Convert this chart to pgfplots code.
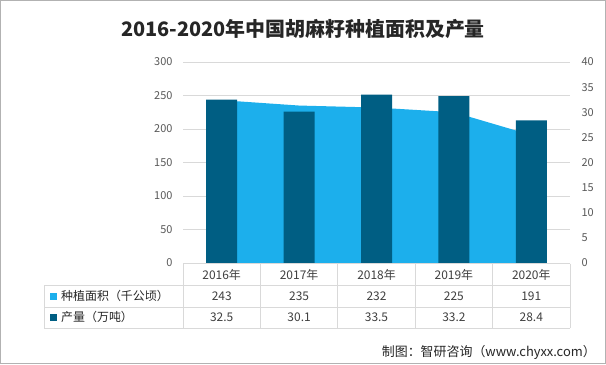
\documentclass[border=0pt]{standalone}
\usepackage{pgfplots}
\pgfplotsset{compat=1.18}
\usepackage{fontspec}
\setmainfont{Noto Sans CJK SC}
\definecolor{areablue}{RGB}{28,175,236}
\definecolor{bardark}{RGB}{0,94,131}
\definecolor{gridgray}{RGB}{217,217,217}
\definecolor{ticktext}{RGB}{89,89,89}
\definecolor{tabtext}{RGB}{64,64,64}
\begin{document}
\begin{tikzpicture}[x=1bp,y=1bp]
\useasboundingbox (0,0) rectangle (606,364);
\fill[white] (0,0) rectangle (606,364);
% left axis: planting area
\begin{axis}[at={(183bp,101bp)}, anchor=south west, scale only axis,
  width=387bp, height=201bp, xmin=-0.5, xmax=4.5, ymin=0, ymax=300,
  ytick={0,50,...,300}, xtick=\empty, ymajorgrids,
  grid style={gridgray, line width=0.75bp},
  axis line style={draw=none}, major tick length=0pt,
  /pgf/number format/assume math mode=true,
  yticklabel style={font=\fontsize{11}{11}\selectfont, text=ticktext, xshift=-7bp}]
\addplot[fill=areablue, draw=none] coordinates {(0,243)(1,235)(2,232)(3,225)(4,191)} \closedcycle;
\end{axis}
% right axis: output
\begin{axis}[at={(183bp,101bp)}, anchor=south west, scale only axis,
  width=387bp, height=201bp, xmin=-0.5, xmax=4.5, ymin=0, ymax=40,
  ytick={0,5,...,40}, yticklabel pos=right,
  xtick={0,1,2,3,4}, xticklabels={2016年,2017年,2018年,2019年,2020年},
  axis line style={draw=none}, major tick length=0pt,
  /pgf/number format/assume math mode=true,
  yticklabel style={font=\fontsize{11}{11}\selectfont, text=ticktext, xshift=8bp},
  xticklabel style={font=\fontsize{12}{12}\selectfont, text=tabtext, yshift=-3bp},
  ybar, bar width=31bp]
\addplot[fill=bardark, draw=none] coordinates {(0,32.5)(1,30.1)(2,33.5)(3,33.2)(4,28.4)};
\end{axis}
% table grid
\begin{scope}[gridgray, line width=0.75bp]
\draw (183,100.5)--(570,100.5);
\draw (44,79)--(570,79);
\draw (44,57)--(570,57);
\draw (44,36)--(570,36);
\draw (44,79)--(44,36);
\foreach \xx in {183,260.4,337.8,415.2,492.6,570} {\draw (\xx,100.5)--(\xx,36);}
\end{scope}
% row labels
\fill[areablue] (50,64.5) rectangle (57,71.5);
\node[anchor=west, inner sep=0, font=\fontsize{12}{12}\selectfont, text=black!85] at (61,68) {种植面积（千公顷）};
\fill[bardark] (50,43.5) rectangle (57,50.5);
\node[anchor=west, inner sep=0, font=\fontsize{12}{12}\selectfont, text=black!85] at (61,47) {产量（万吨）};
% values
\begin{scope}[font=\fontsize{12}{12}\selectfont, text=tabtext]
\node at (221.7,68) {243}; \node at (299.1,68) {235}; \node at (376.5,68) {232}; \node at (453.9,68) {225}; \node at (531.3,68) {191};
\node at (221.7,47) {32.5}; \node at (299.1,47) {30.1}; \node at (376.5,47) {33.5}; \node at (453.9,47) {33.2}; \node at (531.3,47) {28.4};
\end{scope}
% title and footer
\node[font=\fontsize{20}{20}\selectfont\bfseries, text=black!85] at (303,335) {2016-2020年中国胡麻籽种植面积及产量};
\node[anchor=east, inner sep=0, font=\fontsize{13}{13}\selectfont, text=black!85] at (596,12) {制图：智研咨询（www.chyxx.com）};
\draw[gray!60, line width=1bp] (0.5,0.5) rectangle (605.5,363.5);
\end{tikzpicture}
\end{document}
